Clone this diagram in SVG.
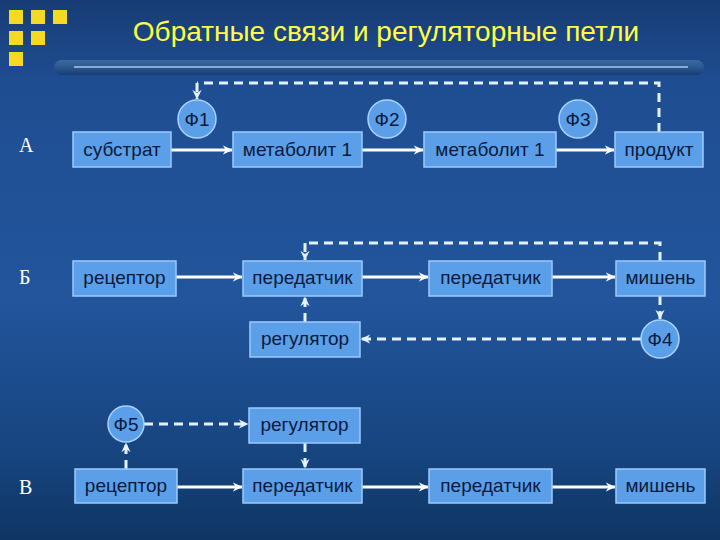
<svg xmlns="http://www.w3.org/2000/svg" width="720" height="540" viewBox="0 0 720 540">
<defs>
<linearGradient id="bg" x1="0" y1="0" x2="0" y2="1">
<stop offset="0" stop-color="#173c74"/>
<stop offset="0.15" stop-color="#1f4d92"/>
<stop offset="0.55" stop-color="#22559c"/>
<stop offset="0.85" stop-color="#16447e"/>
<stop offset="1" stop-color="#0f3563"/>
</linearGradient>
<linearGradient id="bar" x1="0" y1="0" x2="0" y2="1">
<stop offset="0" stop-color="#3e6aa0"/>
<stop offset="0.5" stop-color="#2a5790"/>
<stop offset="1" stop-color="#173e72"/>
</linearGradient>
<marker id="ah" viewBox="0 0 10 10" refX="9" refY="5" markerWidth="3.4" markerHeight="3.4" orient="auto" markerUnits="strokeWidth">
<path d="M0,0.5 L9.5,5 L0,9.5 L3,5 Z" fill="#ffffff"/>
</marker>
<marker id="ahd" viewBox="0 0 10 10" refX="9" refY="5" markerWidth="3.4" markerHeight="3.4" orient="auto" markerUnits="strokeWidth">
<path d="M0,0.5 L9.5,5 L0,9.5 L3,5 Z" fill="#e4f2ff"/>
</marker>
</defs>
<style>
.box{fill:#5b9fe9;stroke:#9ccaff;stroke-width:1.5}
.circ{fill:#5b9fe9;stroke:#a9d2ff;stroke-width:1.5}
.t{font-family:"Liberation Sans",Arial,sans-serif;font-size:19px;fill:#0b1a3c;text-anchor:middle}
.lbl{font-family:"Liberation Serif","Times New Roman",serif;font-size:20px;fill:#ffffff}
.solid{stroke:#ffffff;stroke-width:3;fill:none;marker-end:url(#ah)}
.dash{stroke:#e4f2ff;stroke-width:3;fill:none;stroke-dasharray:9 6}
.dasharr{stroke:#e4f2ff;stroke-width:3;fill:none;stroke-dasharray:9 6;marker-end:url(#ahd)}
.sq{fill:#f5d923}
</style>
<rect x="0" y="0" width="720" height="540" fill="url(#bg)"/>
<g id="logo">
<rect class="sq" x="9" y="10" width="14" height="14"/>
<rect class="sq" x="31" y="10" width="14" height="14"/>
<rect class="sq" x="53" y="10" width="14" height="14"/>
<rect class="sq" x="9" y="31" width="14" height="14"/>
<rect class="sq" x="31" y="31" width="14" height="14"/>
<rect class="sq" x="9" y="52" width="14" height="14"/>
</g>
<text x="386" y="41" font-family="'Liberation Sans',Arial,sans-serif" font-size="28" fill="#ffff40" text-anchor="middle">Обратные связи и регуляторные петли</text>
<g id="titlebar">
<rect x="54" y="60" width="650" height="15" rx="7.5" fill="url(#bar)"/>
<line x1="74" y1="67" x2="688" y2="67" stroke="#a8c8ea" stroke-width="1.5"/>
</g>
<text class="lbl" x="19" y="152">А</text>
<text class="lbl" x="19" y="284">Б</text>
<text class="lbl" x="19" y="494">В</text>
<g id="connectors">
<line class="solid" x1="171" y1="150" x2="232" y2="150"/>
<line class="solid" x1="362" y1="150" x2="423" y2="150"/>
<line class="solid" x1="556" y1="150" x2="614" y2="150"/>
<path class="dash" d="M659,132 V83 H197"/>
<line class="dasharr" x1="197" y1="83" x2="197" y2="99"/>
<line class="solid" x1="176" y1="277" x2="242" y2="277"/>
<line class="solid" x1="362" y1="277" x2="428" y2="277"/>
<line class="solid" x1="552" y1="277" x2="615" y2="277"/>
<path class="dash" d="M660,261 V243 H305"/>
<line class="dasharr" x1="305" y1="243" x2="305" y2="260"/>
<line class="dasharr" x1="305" y1="322" x2="305" y2="297"/>
<line class="dasharr" x1="660" y1="296" x2="660" y2="319"/>
<line class="dasharr" x1="641" y1="339" x2="361" y2="339"/>
<line class="dasharr" x1="144" y1="424" x2="248" y2="424"/>
<line class="dasharr" x1="126" y1="469" x2="126" y2="443"/>
<line class="dasharr" x1="305" y1="443" x2="305" y2="468"/>
<line class="solid" x1="177" y1="487" x2="242" y2="487"/>
<line class="solid" x1="362" y1="487" x2="428" y2="487"/>
<line class="solid" x1="552" y1="487" x2="615" y2="487"/>
</g>
<g id="f1"><circle class="circ" cx="197" cy="119" r="19"/><text class="t" x="197" y="126">Ф1</text></g>
<g id="f2"><circle class="circ" cx="387" cy="119" r="19"/><text class="t" x="387" y="126">Ф2</text></g>
<g id="f3"><circle class="circ" cx="578" cy="119" r="19"/><text class="t" x="578" y="126">Ф3</text></g>
<g id="a1"><rect class="box" x="73" y="132" width="98" height="35"/><text class="t" x="122" y="156">субстрат</text></g>
<g id="a2"><rect class="box" x="233" y="132" width="129" height="35"/><text class="t" x="297.5" y="156">метаболит 1</text></g>
<g id="a3"><rect class="box" x="424" y="132" width="132" height="35"/><text class="t" x="490" y="156">метаболит 1</text></g>
<g id="a4"><rect class="box" x="615" y="132" width="88" height="35"/><text class="t" x="659" y="156">продукт</text></g>
<g id="b1"><rect class="box" x="73" y="261" width="103" height="35"/><text class="t" x="124.5" y="284">рецептор</text></g>
<g id="b2"><rect class="box" x="243" y="261" width="119" height="35"/><text class="t" x="302.5" y="284">передатчик</text></g>
<g id="b3"><rect class="box" x="429" y="261" width="123" height="35"/><text class="t" x="490.5" y="284">передатчик</text></g>
<g id="b4"><rect class="box" x="616" y="261" width="89" height="35"/><text class="t" x="660.5" y="284">мишень</text></g>
<g id="breg"><rect class="box" x="250" y="322" width="110" height="35"/><text class="t" x="305" y="345">регулятор</text></g>
<g id="f4"><circle class="circ" cx="660" cy="339" r="19"/><text class="t" x="660" y="346">Ф4</text></g>
<g id="f5"><circle class="circ" cx="126" cy="424" r="18"/><text class="t" x="126" y="431">Ф5</text></g>
<g id="vreg"><rect class="box" x="249" y="408" width="111" height="35"/><text class="t" x="304.5" y="431">регулятор</text></g>
<g id="v1"><rect class="box" x="75" y="469" width="102" height="34"/><text class="t" x="126" y="492">рецептор</text></g>
<g id="v2"><rect class="box" x="243" y="469" width="119" height="34"/><text class="t" x="302.5" y="492">передатчик</text></g>
<g id="v3"><rect class="box" x="429" y="469" width="123" height="34"/><text class="t" x="490.5" y="492">передатчик</text></g>
<g id="v4"><rect class="box" x="616" y="469" width="89" height="34"/><text class="t" x="660.5" y="492">мишень</text></g>
</svg>
